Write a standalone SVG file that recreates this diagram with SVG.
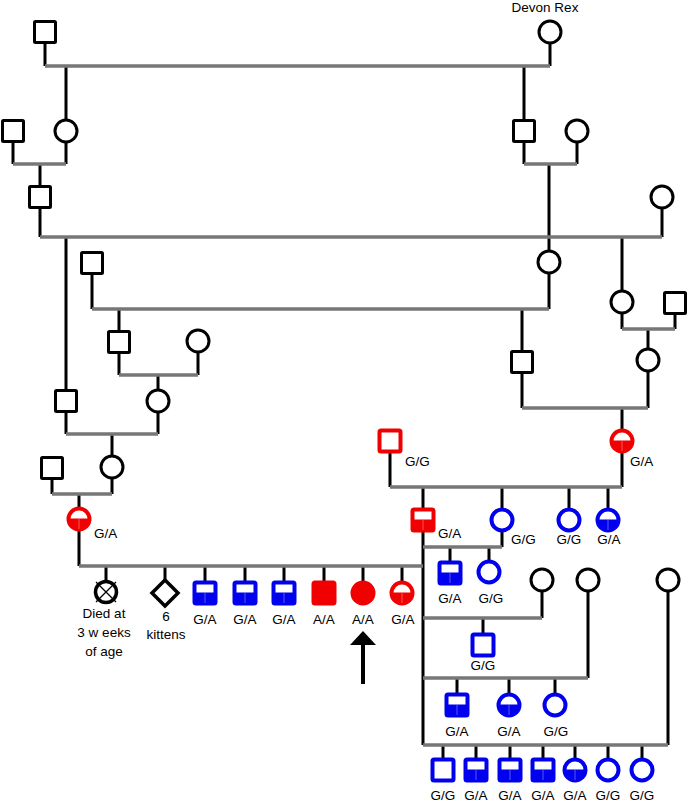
<svg xmlns="http://www.w3.org/2000/svg" xmlns:xlink="http://www.w3.org/1999/xlink" width="688" height="802" viewBox="0 0 688 802">
<style>
  .k { stroke:#000; stroke-width:3; fill:none; stroke-linecap:butt; }
  .m { stroke:#777; stroke-width:3.5; fill:none; }
  .t { font-family:"Liberation Sans", Arial, Helvetica, sans-serif; font-size:13.5px; fill:#000; }
  .c { text-anchor:middle; }
  .red { color:#f00000; }
  .blu { color:#0000ee; }
  .blk { color:#000; }
</style>
<defs>
  <g id="sqK"><rect x="-10.5" y="-10.5" width="21" height="21" rx="1" fill="#fff" stroke="#000" stroke-width="3"/></g>
  <g id="ciK"><circle r="11" fill="#fff" stroke="#000" stroke-width="3"/></g>
  <g id="sqO"><rect x="-10.5" y="-10.5" width="21" height="21" rx="1.5" fill="#fff" stroke="currentColor" stroke-width="4"/></g>
  <g id="ciO"><circle r="10.5" fill="#fff" stroke="currentColor" stroke-width="4"/></g>
  <g id="sqH"><rect x="-10.5" y="-10.5" width="21" height="21" rx="1.5" fill="#fff" stroke="currentColor" stroke-width="4"/><rect x="-10" y="-0.5" width="20" height="10.5" fill="currentColor"/><line x1="0" y1="0" x2="0" y2="10" stroke="#fff" stroke-opacity="0.35" stroke-width="1"/></g>
  <g id="ciH"><circle r="10.5" fill="#fff" stroke="currentColor" stroke-width="4"/><path d="M-10.5,-0.5 A10.5,10.5 0 0 0 10.5,-0.5 Z" fill="currentColor"/><line x1="0" y1="0" x2="0" y2="10" stroke="#fff" stroke-opacity="0.35" stroke-width="1"/></g>
  <g id="sqF"><rect x="-10.5" y="-10.5" width="21" height="21" rx="1.5" fill="currentColor" stroke="currentColor" stroke-width="4"/></g>
  <g id="ciF"><circle r="10.5" fill="currentColor" stroke="currentColor" stroke-width="4"/></g>
</defs>

<g id="connectors">
  <g class="k">
    <path d="M45,43V66 M550,43V66 M66,66V120 M524,66V120"/>
    <path d="M13,143V164 M66,143V164 M524,142V164 M577,142V164 M40,164V186"/>
    <path d="M549,164V251 M40,208V237 M662,209V237 M66,237V390 M622,237V291"/>
    <path d="M92,275V309 M549,274V309 M119,309V331 M622,313V329 M675,314V329 M648,329V349"/>
    <path d="M119,353V375 M198,352V375 M158,375V390 M522,309V351 M522,373V408 M648,371V408 M622,408V430"/>
    <path d="M66,412V434 M158,412V434 M112,434V456 M52,479V494 M112,478V494 M79,494V508 M79,530V566"/>
    <path d="M390,452V487 M622,452V487 M423,487V509 M423,531V745 M502,487V509 M502,531V547 M569,487V509 M608,487V509"/>
    <path d="M106,566V581 M165,566V580 M205,566V582 M245,566V582 M284,566V582 M324,566V582 M363,566V582 M402,566V582"/>
    <path d="M450,547V562 M489,547V561 M542,591V618 M588,591V678 M668,591V745 M483,618V634"/>
    <path d="M457,678V694 M509,678V694 M555,678V694"/>
    <path d="M443,745V759 M476,745V759 M510,745V759 M543,745V759 M575,745V759 M608,745V759 M642,745V759"/>
  </g>
  <g class="m">
    <path d="M45,66H550 M13,164H66 M524,164H577 M40,237H662 M92,309H549 M622,329H675"/>
    <path d="M119,375H198 M522,408H648 M66,434H158 M52,494H112 M390,487H622"/>
    <path d="M423,547H502 M79,566H423 M423,618H542 M423,678H588 M423,745H668"/>
  </g>
</g>

<g id="n1"><use xlink:href="#sqK" x="45" y="32"/></g>
<g id="n2"><use xlink:href="#ciK" x="550" y="32"/><text class="t c" x="545" y="12">Devon Rex</text></g>
<g id="n3"><use xlink:href="#sqK" x="13" y="131"/></g>
<g id="n4"><use xlink:href="#ciK" x="66" y="131"/></g>
<g id="n5"><use xlink:href="#sqK" x="524" y="131"/></g>
<g id="n6"><use xlink:href="#ciK" x="577" y="131"/></g>
<g id="n7"><use xlink:href="#sqK" x="40" y="197"/></g>
<g id="n8"><use xlink:href="#ciK" x="662" y="197"/></g>
<g id="n9"><use xlink:href="#sqK" x="92" y="263"/></g>
<g id="n10"><use xlink:href="#ciK" x="549" y="262"/></g>
<g id="n11"><use xlink:href="#sqK" x="119" y="342"/></g>
<g id="n12"><use xlink:href="#ciK" x="198" y="341"/></g>
<g id="n13"><use xlink:href="#ciK" x="622" y="302"/></g>
<g id="n14"><use xlink:href="#sqK" x="675" y="303"/></g>
<g id="n15"><use xlink:href="#sqK" x="66" y="401"/></g>
<g id="n16"><use xlink:href="#ciK" x="158" y="401"/></g>
<g id="n17"><use xlink:href="#sqK" x="522" y="362"/></g>
<g id="n18"><use xlink:href="#ciK" x="648" y="360"/></g>
<g id="n19"><use xlink:href="#sqK" x="52" y="468"/></g>
<g id="n20"><use xlink:href="#ciK" x="112" y="467"/></g>

<g id="n21" class="red"><use xlink:href="#sqO" x="390" y="441"/><text class="t" x="405" y="466">G/G</text></g>
<g id="n22" class="red"><use xlink:href="#ciH" x="622" y="441"/><text class="t" x="630" y="466">G/A</text></g>
<g id="n23" class="red"><use xlink:href="#ciH" x="79" y="519"/><text class="t" x="94" y="538">G/A</text></g>
<g id="n24" class="red"><use xlink:href="#sqH" x="423" y="520"/><text class="t" x="438" y="538">G/A</text></g>
<g id="n25" class="blu"><use xlink:href="#ciO" x="502" y="520"/><text class="t" x="511" y="544">G/G</text></g>
<g id="n26" class="blu"><use xlink:href="#ciO" x="569" y="520"/><text class="t c" x="569" y="544">G/G</text></g>
<g id="n27" class="blu"><use xlink:href="#ciH" x="608" y="520"/><text class="t c" x="609" y="544">G/A</text></g>

<g id="n28"><circle cx="106" cy="592" r="10.5" fill="#fff" stroke="#000" stroke-width="3.5"/><path d="M96,582L116,602 M116,582L96,602" stroke="#000" stroke-width="1.3"/>
  <text class="t c" x="104" y="618">Died at</text><text class="t c" x="104" y="637">3 w eeks</text><text class="t c" x="104" y="656">of age</text></g>
<g id="n29"><path d="M165,580L178,593L165,606L152,593Z" fill="#fff" stroke="#000" stroke-width="3.5" stroke-linejoin="miter"/>
  <text class="t c" x="166" y="621">6</text><text class="t c" x="166" y="639">kittens</text></g>
<g id="n30" class="blu"><use xlink:href="#sqH" x="205" y="593"/><text class="t c" x="205" y="624">G/A</text></g>
<g id="n31" class="blu"><use xlink:href="#sqH" x="245" y="593"/><text class="t c" x="245" y="624">G/A</text></g>
<g id="n32" class="blu"><use xlink:href="#sqH" x="284" y="593"/><text class="t c" x="284" y="624">G/A</text></g>
<g id="n33" class="red"><use xlink:href="#sqF" x="324" y="593"/><text class="t c" x="324" y="624">A/A</text></g>
<g id="n34" class="red"><use xlink:href="#ciF" x="363" y="593"/><text class="t c" x="363" y="624">A/A</text>
  <path d="M363,631L376,645H350Z" fill="#000"/><rect x="361" y="644" width="4" height="40" fill="#000"/></g>
<g id="n35" class="red"><use xlink:href="#ciH" x="402" y="593"/><text class="t c" x="403" y="624">G/A</text></g>

<g id="n36" class="blu"><use xlink:href="#sqH" x="450" y="573"/><text class="t c" x="450" y="603">G/A</text></g>
<g id="n37" class="blu"><use xlink:href="#ciO" x="489" y="572"/><text class="t c" x="491" y="603">G/G</text></g>
<g id="n38"><use xlink:href="#ciK" x="542" y="580"/></g>
<g id="n39"><use xlink:href="#ciK" x="588" y="580"/></g>
<g id="n40"><use xlink:href="#ciK" x="668" y="580"/></g>
<g id="n41" class="blu"><use xlink:href="#sqO" x="483" y="645"/><text class="t c" x="483" y="670">G/G</text></g>
<g id="n42" class="blu"><use xlink:href="#sqH" x="457" y="705"/><text class="t c" x="457" y="736">G/A</text></g>
<g id="n43" class="blu"><use xlink:href="#ciH" x="509" y="705"/><text class="t c" x="509" y="736">G/A</text></g>
<g id="n44" class="blu"><use xlink:href="#ciO" x="555" y="705"/><text class="t c" x="556" y="736">G/G</text></g>

<g id="n45" class="blu"><use xlink:href="#sqO" x="443" y="770"/><text class="t c" x="443" y="800">G/G</text></g>
<g id="n46" class="blu"><use xlink:href="#sqH" x="476" y="770"/><text class="t c" x="476" y="800">G/A</text></g>
<g id="n47" class="blu"><use xlink:href="#sqH" x="510" y="770"/><text class="t c" x="510" y="800">G/A</text></g>
<g id="n48" class="blu"><use xlink:href="#sqH" x="543" y="770"/><text class="t c" x="543" y="800">G/A</text></g>
<g id="n49" class="blu"><use xlink:href="#ciH" x="575" y="770"/><text class="t c" x="575" y="800">G/A</text></g>
<g id="n50" class="blu"><use xlink:href="#ciO" x="608" y="770"/><text class="t c" x="608" y="800">G/G</text></g>
<g id="n51" class="blu"><use xlink:href="#ciO" x="642" y="770"/><text class="t c" x="642" y="800">G/G</text></g>
</svg>
